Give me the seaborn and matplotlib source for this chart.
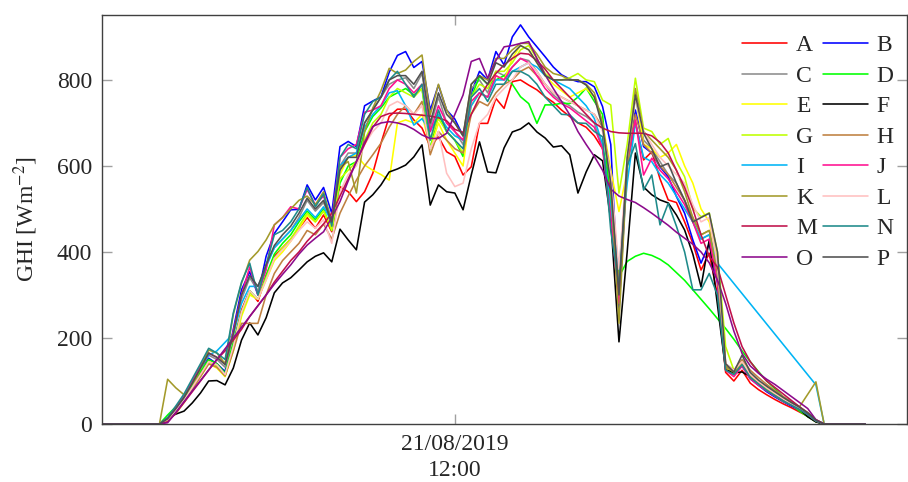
import numpy as np
import pandas as pd
import matplotlib
matplotlib.use("Agg")
import matplotlib.pyplot as plt
import matplotlib.dates as mdates
import seaborn as sns

# Figure settings
FIG_DPI = 100
FONTSIZE = 17

# 10-minute GHI readings on 21/08/2019
TIMES = pd.date_range("2019-08-21 04:50", "2019-08-21 20:20", freq="10min")
NIGHT_AM = [0] * 7  # 04:50 - 05:50
NIGHT_PM = [0] * 5  # 19:40 - 20:20
NAN = np.nan

STATIONS = list("ABCDEFGHIJKLMNOP")
COLORS = [
    "#ff0000", "#0000ff", "#8c8c8c", "#00ff00", "#ffff00", "#000000",
    "#bfff00", "#bf8040", "#00b4f5", "#ff1090", "#a39a2a", "#ffc0c0",
    "#c0104a", "#1e8a8a", "#8c0a8c", "#505050",
]

# daytime values, 06:00 - 19:30 (W/m2)
ghi_A = [0, 10, 30, 55, 85, 118, 150, 140, 118, 185,
         265, 310, 285, 345, 390, 410, 430, 455, 480, 455,
         486, 447, 552, 540, 517, 540, 583, 653, 715, 732,
         732, 707, 688, 645, 668, 633, 622, 579, 598, 699,
         699, 757, 734, 796, 800, 788, 777, 761, 748, 730,
         715, 700, 690, 670, 640, 540, 310, 600, 703, 614,
         633, 570, 521, 515, 470, 420, 358, 397, 300, 120,
         100, 125, 95, 80, 68, 57, 47, 38, 28, 18,
         5, 0]
ghi_B = [0, 12, 35, 62, 95, 130, 153, 140, 122, 220,
         312, 354, 300, 390, 443, 470, 498, 499, 556, 521,
         550, 490, 645, 657, 645, 740, 751, 761, 818, 857,
         866, 829, 843, 730, 788, 730, 709, 670, 770, 820,
         800, 866, 835, 900, 928, 900, 877, 854, 830, 812,
         802, 796, 796, 784, 738, 650, 265, 600, 730, 645,
         630, 598, 575, 529, 490, 428, 374, 420, 328, 133,
         115, 135, 105, 90, 75, 63, 52, 42, 32, 20,
         6, 0]
ghi_C = [0, 12, 35, 60, 92, 128, 160, 150, 132, 205,
         290, 340, 310, 370, 410, 430, 450, 480, 520, 495,
         515, 470, 600, 630, 630, 700, 730, 760, 790, 800,
         805, 780, 815, 690, 760, 700, 680, 650, 780, 800,
         770, 820, 810, 830, 850, 845, 820, 790, 765, 750,
         740, 725, 715, 700, 640, 520, 320, 610, 760, 660,
         640, 610, 580, 560, 520, 470, 430, 440, 350, 135,
         120, 140, 112, 95, 80, 68, 56, 46, 36, 24,
         8, 0]
ghi_D = [0, 21, 40, 60, 90, 122, 150, 140, 118, 190,
         260, 310, 290, 345, 395, 420, 440, 470, 495, 475,
         500, 450, 560, 600, 610, 680, 715, 735, 760, 770,
         780, 765, 780, 640, 720, 680, 660, 622, 760, 808,
         790, 800, 810, 790, 761, 745, 699, 742, 742, 746,
         745, 760, 781, 750, 720, 500, 343, 378, 390, 397,
         392, 383, 370, 352, 334, 312, 290, 268, 245, 222,
         197, 170, 145, 122, 100, 82, 63, 46, 30, 17,
         5, 0]
ghi_E = [0, 8, 25, 50, 80, 110, 140, 130, 110, 170,
         250, 300, 290, 335, 380, 400, 425, 455, 485, 470,
         495, 455, 580, 620, 625, 602, 590, 580, 567, 700,
         707, 700, 720, 640, 700, 660, 630, 600, 740, 770,
         760, 810, 800, 850, 880, 870, 840, 810, 790, 775,
         760, 770, 780, 760, 700, 590, 494, 587, 770, 650,
         640, 620, 630, 650, 600, 560, 500, 470, 380, 130,
         115, 140, 112, 96, 82, 70, 58, 47, 37, 25,
         9, 0]
ghi_F = [0, 14, 23, 30, 49, 72, 100, 101, 91, 130,
         195, 235, 207, 247, 305, 328, 340, 358, 377, 390,
         398, 377, 453, 428, 405, 516, 533, 556, 586, 593,
         602, 621, 649, 509, 556, 540, 537, 498, 579, 656,
         586, 584, 642, 679, 686, 700, 679, 665, 644, 647,
         626, 537, 586, 626, 612, 474, 191, 400, 630, 551,
         533, 521, 514, 486, 451, 395, 319, 428, 277, 126,
         119, 121, 110, 95, 84, 72, 56, 47, 35, 17,
         5, 0]
ghi_G = [0, 8, 28, 52, 82, 112, 145, 135, 112, 175,
         255, 305, 290, 340, 385, 410, 430, 460, 490, 470,
         495, 450, 570, 590, 610, 660, 700, 720, 760, 780,
         770, 760, 780, 660, 710, 680, 660, 630, 760, 790,
         780, 820, 820, 840, 870, 880, 850, 815, 800, 800,
         805, 815, 800, 796, 753, 742, 537, 650, 804, 688,
         680, 650, 664, 610, 575, 502, 482, 491, 400, 180,
         125, 145, 115, 98, 84, 72, 60, 49, 38, 25,
         9, 0]
ghi_H = [0, 10, 30, 52, 80, 110, 140, 132, 112, 170,
         234, 234, 234, 300, 350, 380, 400, 420, 450, 440,
         465, 430, 490, 530, 567, 600, 626, 653, 690, 720,
         740, 720, 750, 626, 680, 660, 640, 630, 720, 750,
         740, 770, 790, 800, 820, 830, 810, 790, 770, 760,
         750, 740, 730, 720, 690, 580, 320, 600, 720, 650,
         630, 600, 580, 550, 520, 480, 440, 450, 360, 140,
         125, 150, 125, 108, 92, 78, 64, 52, 40, 27,
         9, 0]
ghi_I = [0, 12, 38, 65, 100, 135, 160, 170, 190, 210,
         280, 320, 320, 365, 410, 430, 450, 475, 500, 480,
         505, 470, 600, 620, 630, 690, 720, 740, 770, 775,
         740, 695, 710, 680, 720, 690, 670, 660, 740, 770,
         760, 800, 800, 820, 830, 840, 830, 810, 800, 790,
         780, 760, 740, 710, 650, 500, 360, 560, 700, 620,
         610, 580, 560, 530, 500, 470, 430, 440, 374, NAN,
         NAN, NAN, NAN, NAN, NAN, NAN, NAN, NAN, NAN, NAN,
         91, 0]
ghi_J = [0, 14, 38, 63, 98, 135, 165, 155, 140, 215,
         300, 365, 300, 358, 463, 480, 505, 500, 545, 510,
         530, 475, 620, 640, 650, 725, 730, 740, 780, 800,
         790, 770, 790, 680, 740, 700, 680, 660, 750, 770,
         760, 810, 800, 830, 850, 840, 810, 780, 760, 745,
         735, 720, 705, 690, 640, 480, 280, 610, 707, 579,
         618, 590, 570, 540, 510, 470, 420, 430, 330, 125,
         110, 135, 105, 90, 77, 65, 54, 44, 34, 22,
         7, 0]
ghi_K = [0, 104, 84, 68, 85, 130, 172, 165, 140, 255,
         327, 381, 401, 428, 463, 480, 500, 520, 530, 510,
         540, 470, 598, 610, 537, 680, 735, 775, 827, 815,
         823, 843, 858, 719, 790, 730, 700, 670, 790, 810,
         800, 850, 850, 870, 885, 885, 860, 830, 815, 810,
         800, 800, 790, 770, 700, 560, 234, 600, 780, 680,
         660, 640, 620, 590, 540, 480, 440, 450, 350, 135,
         120, 140, 112, 95, 80, 66, 53, 45, 40, 69,
         98, 0]
ghi_L = [0, 10, 30, 55, 85, 115, 145, 138, 115, 180,
         260, 310, 290, 335, 385, 405, 425, 450, 470, 455,
         475, 420, 540, 580, 600, 650, 680, 700, 740, 750,
         740, 720, 740, 640, 680, 583, 552, 560, 640, 700,
         720, 760, 780, 800, 830, 840, 820, 790, 770, 760,
         750, 740, 730, 720, 680, 580, 360, 620, 760, 680,
         650, 620, 600, 580, 560, 510, 470, 480, 370, 140,
         125, 145, 115, 98, 84, 71, 58, 47, 36, 24,
         8, 0]
ghi_M = [0, 5, 25, 50, 75, 100, 125, 150, 170, 195,
         220, 250, 275, 300, 330, 355, 380, 400, 425, 445,
         465, 490, 530, 570, 610, 650, 690, 715, 722, 723,
         722, 720, 718, 716, 712, 705, 685, 678, 720, 760,
         790, 815, 835, 850, 862, 860, 845, 825, 800, 780,
         760, 740, 720, 700, 688, 680, 677, 676, 676, 676,
         670, 655, 630, 590, 550, 500, 440, 390, 365, 300,
         235, 180, 145, 120, 100, 85, 70, 55, 40, 25,
         10, 0]
ghi_N = [0, 15, 42, 70, 105, 140, 176, 165, 150, 258,
         330, 374, 300, 370, 440, 450, 470, 500, 550, 505,
         535, 460, 620, 650, 640, 720, 750, 760, 800, 820,
         790, 760, 790, 660, 730, 680, 660, 640, 760, 780,
         750, 790, 790, 820, 820, 810, 790, 760, 740, 720,
         719, 700, 699, 680, 668, 450, 320, 600, 652, 544,
         579, 463, 513, 460, 400, 312, 312, 350, 300, 125,
         115, 138, 108, 93, 78, 66, 54, 44, 34, 22,
         7, 0]
ghi_O = [0, 3, 27, 52, 77, 101, 126, 150, 175, 200,
         225, 250, 275, 300, 325, 348, 370, 395, 416, 432,
         447, 480, 517, 565, 610, 655, 692, 700, 703, 700,
         695, 685, 672, 664, 664, 676, 720, 765, 843, 850,
         804, 845, 877, 880, 885, 889, 850, 812, 780, 750,
         719, 680, 650, 622, 590, 546, 530, 522, 515, 503,
         490, 476, 462, 446, 432, 418, 400, 375, 335, 280,
         216, 164, 135, 118, 104, 92, 78, 64, 50, 36,
         10, 0]
ghi_P = [0, 12, 36, 62, 95, 130, 165, 155, 138, 210,
         300, 345, 320, 370, 415, 440, 460, 490, 525, 500,
         520, 470, 590, 620, 620, 700, 730, 760, 800, 810,
         810, 790, 820, 700, 770, 720, 700, 670, 790, 810,
         790, 840, 830, 860, 880, 870, 840, 810, 800, 800,
         800, 800, 788, 760, 690, 560, 300, 620, 765, 676,
         640, 598, 606, 560, 520, 470, 480, 490, 400, 140,
         121, 160, 120, 102, 88, 75, 62, 50, 39, 26,
         9, 0]

SERIES = [ghi_A, ghi_B, ghi_C, ghi_D, ghi_E, ghi_F, ghi_G, ghi_H,
          ghi_I, ghi_J, ghi_K, ghi_L, ghi_M, ghi_N, ghi_O, ghi_P]

# Long table for seaborn; missing readings are dropped so the line joins
frames = []
for name, vals in zip(STATIONS, SERIES):
    full = NIGHT_AM + vals + NIGHT_PM
    assert len(full) == len(TIMES), (name, len(full))
    frames.append(pd.DataFrame({"time": TIMES, "GHI": full, "station": name}))
df = pd.concat(frames, ignore_index=True).dropna()

sns.set_style("ticks")
plt.rcParams["font.family"] = "Liberation Serif"
plt.rcParams["mathtext.fontset"] = "stix"

fig = plt.figure(figsize=(9.08, 4.82), dpi=FIG_DPI)
ax = fig.add_axes([102 / 908, 1 - 424 / 482, 805 / 908, 409 / 482])

sns.lineplot(
    data=df,
    x="time",
    y="GHI",
    hue="station",
    hue_order=STATIONS,
    palette=COLORS,
    estimator=None,
    linewidth=1.15,
    ax=ax,
)

# Axis limits and ticks
ax.set_xlim(pd.Timestamp("2019-08-21 04:50"), pd.Timestamp("2019-08-21 21:11"))
ax.set_ylim(0, 951)
ax.set_yticks([0, 200, 400, 600, 800])
ax.set_xticks([mdates.date2num(pd.Timestamp("2019-08-21 12:00"))])
ax.set_xticklabels(["21/08/2019\n12:00"])
ax.tick_params(direction="in", length=7, width=1, color="#a0a0a0",
               top=True, right=True, labelsize=FONTSIZE, pad=7)
for lab in ax.get_xticklabels():
    lab.set_linespacing(1.35)
for side in ax.spines.values():
    side.set_color("#404040")
    side.set_linewidth(1.0)

ax.set_xlabel("")
ax.set_ylabel("GHI [Wm$^{-2}$]", fontsize=FONTSIZE, labelpad=12)

# Legend laid out row-wise: A B / C D / ...
old = ax.get_legend()
handles = old.legend_handles
labels = [t.get_text() for t in old.get_texts()]
old.remove()
order = [0, 2, 4, 6, 8, 10, 12, 14, 1, 3, 5, 7, 9, 11, 13, 15]
ax.legend(
    [handles[i] for i in order],
    [labels[i] for i in order],
    ncol=2,
    loc="upper right",
    bbox_to_anchor=(1.006, 0.996),
    frameon=False,
    fontsize=FONTSIZE,
    handlelength=1.9,
    handletextpad=0.38,
    columnspacing=0.25,
    labelspacing=0.38,
    borderaxespad=0.37,
)

fig.savefig("out.png", dpi=FIG_DPI)
